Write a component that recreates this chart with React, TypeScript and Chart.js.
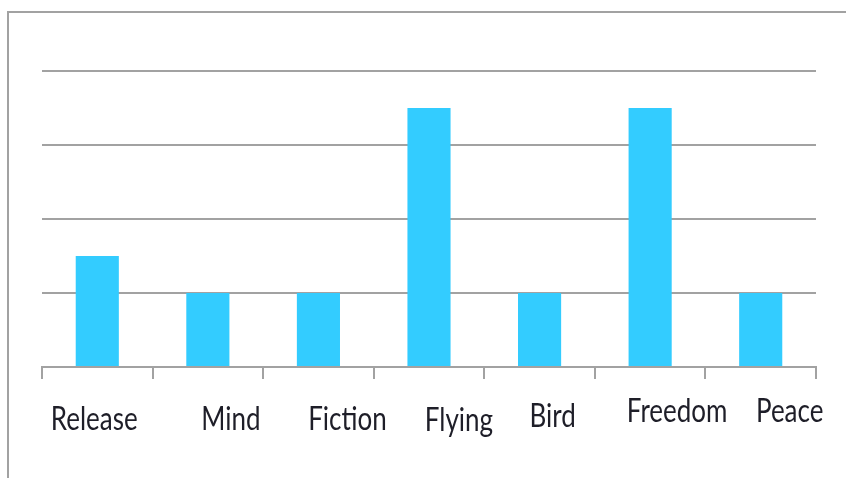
import React, { useEffect, useRef } from "react";
import { Chart, registerables } from "chart.js";

Chart.register(...registerables);

// Word frequency bars
const categories = ["Release", "Mind", "Fiction", "Flying", "Bird", "Freedom", "Peace"];
const counts = [1.5, 1, 1, 3.5, 1, 3.5, 1];
const yTicks = [0, 1, 2, 3, 4];

// Hand-placed label nudges (x from category centre, y below the axis line)
const labelDx = [-3, 23, 29, 30, 13, 27, 29];
const labelDy = [63, 63, 63, 64, 60, 55, 55];

const LINE = "#a2a2a2";
const BAR = "#33ccff";

const framePlugin = {
  id: "frame",
  beforeDraw(chart: any) {
    const { ctx, width, height } = chart;
    ctx.save();
    ctx.strokeStyle = LINE;
    ctx.lineWidth = 2;
    ctx.beginPath();
    ctx.moveTo(8, height);
    ctx.lineTo(8, 12);
    ctx.lineTo(width, 12);
    ctx.stroke();
    ctx.restore();
  },
};

const labelPlugin = {
  id: "stretchedLabels",
  afterDraw(chart: any) {
    const { ctx } = chart;
    const xs = chart.scales.x;
    const ys = chart.scales.y;
    const base = ys.getPixelForValue(0);
    ctx.save();
    ctx.fillStyle = "#1e1e28";
    ctx.font = "26px Lato, 'Open Sans', sans-serif";
    ctx.textAlign = "center";
    ctx.textBaseline = "alphabetic";
    categories.forEach((label, i) => {
      const x = xs.getPixelForValue(i) + labelDx[i];
      const y = base + labelDy[i];
      ctx.save();
      ctx.translate(x, y);
      ctx.scale(1, 1.24);
      ctx.fillText(label, 0, 0);
      ctx.restore();
    });
    ctx.restore();
  },
};

export default function App() {
  const canvasRef = useRef<HTMLCanvasElement | null>(null);

  useEffect(() => {
    if (!canvasRef.current) return;
    const chart = new Chart(canvasRef.current, {
      type: "bar",
      data: {
        labels: categories,
        datasets: [
          {
            data: counts,
            backgroundColor: BAR,
            borderWidth: 0,
            barPercentage: 0.39,
            categoryPercentage: 1,
          },
        ],
      },
      options: {
        animation: false,
        responsive: true,
        maintainAspectRatio: false,
        layout: { padding: { left: 42, right: 30, top: 71, bottom: 99 } },
        plugins: { legend: { display: false }, tooltip: { enabled: false } },
        scales: {
          x: {
            grid: {
              display: true,
              drawOnChartArea: false,
              drawTicks: true,
              tickLength: 12,
              color: LINE,
              lineWidth: 2,
              offset: true,
            },
            border: { display: true, color: LINE, width: 2 },
            ticks: { display: false },
            afterFit(scale: any) {
              scale.height = 12;
            },
          },
          y: {
            min: yTicks[0],
            max: yTicks[yTicks.length - 1],
            afterBuildTicks(scale: any) {
              scale.ticks = yTicks.map((v) => ({ value: v }));
            },
            grid: { color: LINE, lineWidth: 2, drawTicks: false },
            border: { display: false },
            ticks: { display: false },
            afterFit(scale: any) {
              scale.width = 0;
            },
          },
        },
      },
      plugins: [framePlugin, labelPlugin],
    });
    return () => chart.destroy();
  }, []);

  return (
    <div style={{ position: "absolute", left: 0, top: 0, width: 846, height: 478, background: "#fff" }}>
      <canvas ref={canvasRef} />
    </div>
  );
}
